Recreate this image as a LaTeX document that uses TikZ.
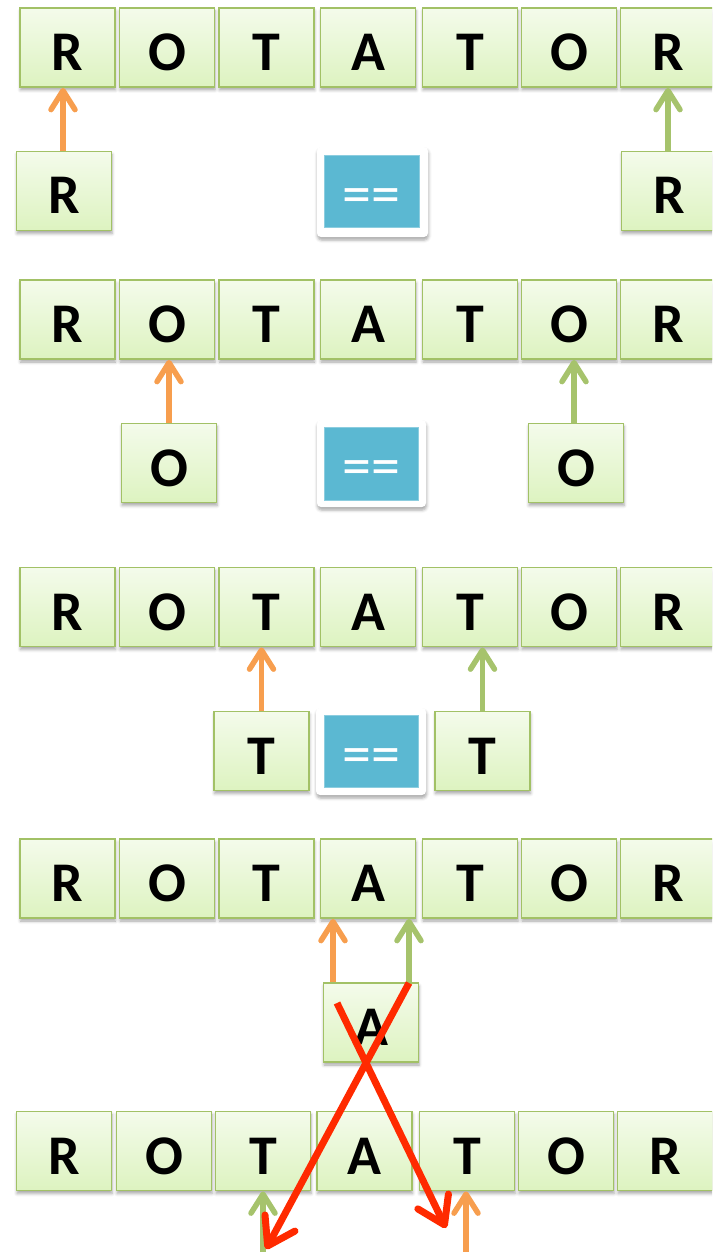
\documentclass[tikz,border=0pt]{standalone}
\usepackage{fontspec}
\setmainfont{Carlito}
\usetikzlibrary{arrows.meta,shadows.blur}
\definecolor{boxtop}{HTML}{F4FBEB}
\definecolor{boxbot}{HTML}{DDF3C0}
\definecolor{boxline}{HTML}{A2C166}
\definecolor{orangeA}{HTML}{F79E4E}
\definecolor{greenA}{HTML}{A6C36C}
\definecolor{redX}{HTML}{FF2A00}
\definecolor{eqblue}{HTML}{5BB8D2}
\tikzset{
  letterbox/.style={draw=boxline, line width=1.8pt, top color=boxtop, bottom color=boxbot,
    minimum width=95pt, minimum height=79pt, inner sep=0pt,
    font=\bfseries\fontsize{56}{56}\selectfont, text height=46pt, text depth=0pt,
    blur shadow={shadow xshift=0.5pt, shadow yshift=-3pt, shadow blur radius=3pt, shadow opacity=35}},
  eqouter/.style={fill=white, rounded corners=4pt, inner sep=0pt,
    blur shadow={shadow xshift=0.5pt, shadow yshift=-3pt, shadow blur radius=3pt, shadow opacity=35}},
  eqinner/.style={fill=eqblue, draw=eqblue!70!white, line width=0.6pt, inner sep=0pt, text=white,
    font=\fontsize{58}{58}\selectfont, text height=44pt, text depth=0pt},
  oarrow/.style={draw=orangeA, line width=5.5pt, -{Straight Barb[length=19pt,width=24pt,round]}},
  garrow/.style={draw=greenA, line width=5.5pt, -{Straight Barb[length=19pt,width=24pt,round]}},
  redarrow/.style={draw=redX, line width=7pt, -{Straight Barb[length=26pt,width=34pt,round]}}
}
\begin{document}
\begin{tikzpicture}[x=1pt,y=-1pt]
\useasboundingbox (0,0) rectangle (712,1252);
\clip (0,0) rectangle (712,1252);
% Row 1
\node[letterbox] (a1) at (67.5,47.5) {R};
\node[letterbox] (b1) at (167,47.5) {O};
\node[letterbox] (c1) at (266.5,47.5) {T};
\node[letterbox] (d1) at (368,47.5) {A};
\node[letterbox] (e1) at (470,47.5) {T};
\node[letterbox] (f1) at (569,47.5) {O};
\node[letterbox] (g1) at (668,47.5) {R};
\node[letterbox] (l1) at (64,191) {R};
\node[letterbox] (r1) at (669,191) {R};
\node[eqouter, minimum width=111pt, minimum height=90pt] (q1o) at (372.5,192) {};
\node[eqinner, minimum width=95pt, minimum height=72pt] (q1) at (371.5,191) {==};
\draw[oarrow] ([xshift=-1pt]l1.north) -- ([xshift=-1pt]l1.north |- a1.south);
\draw[garrow] ([xshift=-1pt]r1.north) -- ([xshift=-1pt]r1.north |- g1.south);
% Row 2
\node[letterbox] (a2) at (67.5,319.5) {R};
\node[letterbox] (b2) at (167,319.5) {O};
\node[letterbox] (c2) at (266.5,319.5) {T};
\node[letterbox] (d2) at (368,319.5) {A};
\node[letterbox] (e2) at (470,319.5) {T};
\node[letterbox] (f2) at (569,319.5) {O};
\node[letterbox] (g2) at (668,319.5) {R};
\node[letterbox] (l2) at (169,463) {O};
\node[letterbox] (r2) at (576,463) {O};
\node[eqouter, minimum width=109pt, minimum height=87pt] (q2o) at (371.5,463.5) {};
\node[eqinner, minimum width=94pt, minimum height=73pt] (q2) at (371,463.5) {==};
\draw[oarrow] (l2.north) -- (l2.north |- b2.south);
\draw[garrow] ([xshift=-2pt]r2.north) -- ([xshift=-2pt]r2.north |- f2.south);
% Row 3
\node[letterbox] (a3) at (67.5,607) {R};
\node[letterbox] (b3) at (167,607) {O};
\node[letterbox] (c3) at (266.5,607) {T};
\node[letterbox] (d3) at (368,607) {A};
\node[letterbox] (e3) at (470,607) {T};
\node[letterbox] (f3) at (569,607) {O};
\node[letterbox] (g3) at (668,607) {R};
\node[letterbox] (l3) at (261.5,751) {T};
\node[letterbox] (r3) at (482.5,751) {T};
\node[eqouter, minimum width=110pt, minimum height=87pt] (q3o) at (371,751.5) {};
\node[eqinner, minimum width=94pt, minimum height=72pt] (q3) at (371,751) {==};
\draw[oarrow] (l3.north) -- (l3.north |- c3.south);
\draw[garrow] (r3.north) -- (r3.north |- e3.south);
% Row 4
\node[letterbox] (a4) at (67.5,878.5) {R};
\node[letterbox] (b4) at (167,878.5) {O};
\node[letterbox] (c4) at (266.5,878.5) {T};
\node[letterbox] (d4) at (368,878.5) {A};
\node[letterbox] (e4) at (470,878.5) {T};
\node[letterbox] (f4) at (569,878.5) {O};
\node[letterbox] (g4) at (668,878.5) {R};
\node[letterbox] (l4) at (371,1022.5) {A};
\draw[oarrow] ([xshift=-38pt]l4.north) -- ([xshift=-38pt]l4.north |- d4.south);
\draw[garrow] ([xshift=38pt]l4.north) -- ([xshift=38pt]l4.north |- d4.south);
% Row 5
\node[letterbox] (a5) at (64,1151) {R};
\node[letterbox] (b5) at (164,1151) {O};
\node[letterbox] (c5) at (263,1151) {T};
\node[letterbox] (d5) at (364.5,1151) {A};
\node[letterbox] (e5) at (467,1151) {T};
\node[letterbox] (f5) at (566,1151) {O};
\node[letterbox] (g5) at (665,1151) {R};
\coordinate (gfoot) at (263,1262);
\coordinate (ofoot) at (466,1262);
\draw[garrow] (gfoot) -- (gfoot |- c5.south);
\draw[oarrow] (ofoot) -- (ofoot |- e5.south);
% Red cross
\coordinate (x1s) at (337,1003);
\coordinate (x1e) at (446,1228);
\coordinate (x2s) at (409,983);
\coordinate (x2e) at (266,1249);
\draw[redarrow] (x1s) -- (x1e);
\draw[redarrow] (x2s) -- (x2e);
\end{tikzpicture}
\end{document}
